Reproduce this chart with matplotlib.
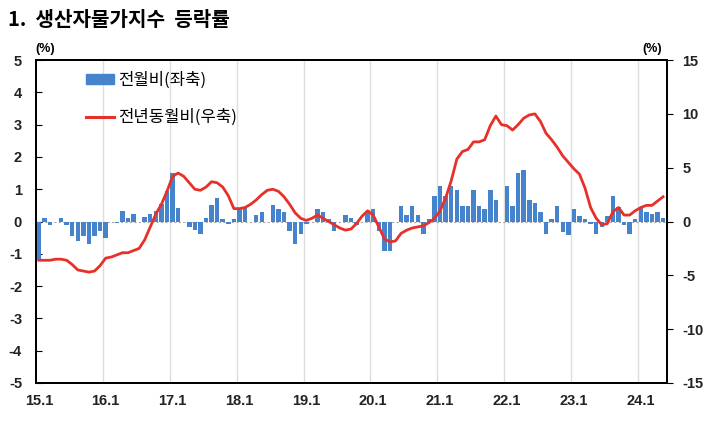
import numpy as np
import matplotlib.pyplot as plt
from matplotlib.patches import Patch
from matplotlib.lines import Line2D

plt.rcParams['font.family'] = ['Liberation Sans', 'DejaVu Sans']
plt.rcParams['axes.unicode_minus'] = False
KR = ['Noto Sans CJK KR', 'DejaVu Sans']

# monthly data, 2015.1 ~ 2024.5
mom = [-1.2, 0.1, -0.1, 0.0, 0.1, -0.1, -0.45, -0.6, -0.45, -0.7, -0.45, -0.3,   # 2015
       -0.5, 0.0, -0.05, 0.34, 0.1, 0.24, 0.0, 0.15, 0.24, 0.34, 0.55, 0.95,     # 2016
       1.5, 0.42, 0.0, -0.17, -0.27, -0.38, 0.1, 0.5, 0.72, 0.08, -0.07, 0.07,   # 2017
       0.42, 0.42, 0.0, 0.2, 0.3, 0.0, 0.5, 0.4, 0.3, -0.28, -0.7, -0.4,         # 2018
       -0.07, 0.0, 0.4, 0.3, 0.08, -0.28, 0.0, 0.2, 0.1, -0.12, 0.0, 0.3,        # 2019
       0.4, -0.3, -0.92, -0.92, 0.0, 0.47, 0.19, 0.47, 0.19, -0.4, 0.08, 0.8,    # 2020
       1.09, 0.78, 1.09, 0.99, 0.47, 0.47, 0.99, 0.47, 0.4, 0.99, 0.68, 0.0,     # 2021
       1.09, 0.47, 1.49, 1.59, 0.68, 0.58, 0.29, -0.4, 0.08, 0.47, -0.33, -0.43, # 2022
       0.39, 0.18, 0.07, -0.08, -0.4, -0.18, 0.18, 0.8, 0.46, -0.1, -0.4, 0.08,  # 2023
       0.42, 0.3, 0.22, 0.3, 0.1]                                                # 2024
yoy = [-3.6, -3.6, -3.6, -3.5, -3.5, -3.6, -4.0, -4.5, -4.6, -4.7, -4.6, -4.1,
       -3.4, -3.3, -3.1, -2.9, -2.9, -2.7, -2.5, -1.7, -0.5, 0.7, 1.6, 2.8,
       4.2, 4.5, 4.2, 3.6, 3.0, 2.9, 3.2, 3.7, 3.6, 3.2, 2.4, 1.2,
       1.2, 1.3, 1.6, 2.0, 2.5, 2.9, 3.0, 2.8, 2.3, 1.6, 0.8, 0.3,
       0.1, 0.3, 0.6, 0.3, 0.0, -0.3, -0.6, -0.8, -0.7, -0.2, 0.5, 1.0,
       0.6, -0.5, -1.6, -1.9, -1.8, -1.1, -0.8, -0.6, -0.5, -0.4, -0.1, 0.3,
       1.0, 2.2, 3.8, 5.8, 6.5, 6.7, 7.4, 7.4, 7.6, 8.9, 9.8, 9.0,
       8.9, 8.5, 9.0, 9.6, 9.9, 10.0, 9.3, 8.2, 7.6, 6.9, 6.1, 5.5,
       4.9, 4.4, 3.1, 1.3, 0.3, -0.3, -0.2, 0.9, 1.3, 0.6, 0.6, 1.0,
       1.3, 1.5, 1.5, 1.9, 2.3]
year_labels = ['15.1', '16.1', '17.1', '18.1', '19.1', '20.1', '21.1', '22.1', '23.1', '24.1']

x = np.arange(len(mom))
blue = '#4584cc'
red = '#e8302a'

fig = plt.figure(figsize=(7.1, 4.23), dpi=100)
ax = fig.add_axes([0.0507, 0.0946, 0.8887, 0.7634])
ax2 = ax.twinx()

ax.bar(x, mom, width=0.8, color=blue, zorder=2)
ax.axhline(0, color='#aaaaaa', lw=0.8, ls=(0, (2, 2)), zorder=1)
for k in range(12, len(mom), 12):
    ax.axvline(k - 0.5, color='#dddddd', lw=1.0, zorder=0)

ax2.plot(x, yoy, color=red, lw=2.0, zorder=3)

ax.set_xlim(-0.5, 112.7)
ax.set_ylim(-5, 5)
ax2.set_ylim(-15, 15)
ax.set_yticks(np.arange(-5, 6, 1))
ax2.set_yticks(np.arange(-15, 16, 5))
ax.set_xticks(np.arange(0, len(mom), 12))
ax.set_xticklabels(year_labels)

ax.tick_params(axis='x', length=0, pad=8, labelsize=10.5)
ax.tick_params(axis='y', direction='in', length=4, pad=10, labelsize=10.5)
ax2.tick_params(axis='y', direction='out', length=4, pad=7, labelsize=10.5)
for lab in ax.get_xticklabels() + ax.get_yticklabels() + ax2.get_yticklabels():
    lab.set_fontweight('bold')
    lab.set_color('#222222')

for sp in ax2.spines.values():
    sp.set_linewidth(1.4)
for sp in ax.spines.values():
    sp.set_linewidth(1.4)

handles = [Patch(color=blue), Line2D([0], [0], color=red, lw=2.2)]
leg = ax2.legend(handles, ['전월비(좌축)', '전년동월비(우축)'], loc='upper left',
                 bbox_to_anchor=(0.055, 1.01), frameon=False, handlelength=1.7,
                 handleheight=0.55, handletextpad=0.25, labelspacing=1.2,
                 prop={'family': KR, 'size': 12})

fig.text(0.011, 0.955, '1.  생산자물가지수  등락률', family=KR, fontsize=14.5,
         fontweight='bold', va='center', ha='left')
fig.text(0.064, 0.885, '(%)', fontsize=9, fontweight='bold', ha='center', va='center')
fig.text(0.918, 0.885, '(%)', fontsize=9, fontweight='bold', ha='center', va='center')

fig.savefig('out.png', dpi=100)
